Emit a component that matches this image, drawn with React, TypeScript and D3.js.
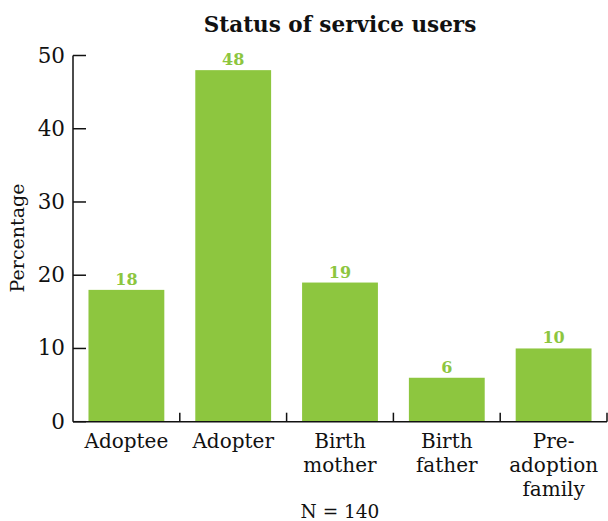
import React from "react";
import * as d3 from "d3";

const categories: string[][] = [
  ["Adoptee"],
  ["Adopter"],
  ["Birth", "mother"],
  ["Birth", "father"],
  ["Pre-", "adoption", "family"],
];
const values: number[] = [18, 48, 19, 6, 10];
const yTicks: number[] = [0, 10, 20, 30, 40, 50];
const title = "Status of service users";
const yLabel = "Percentage";
const note = "N = 140";

const W = 608;
const H = 521;
const GREEN = "#8dc63f";
const FONT = "'DejaVu Serif', serif";

export default function App() {
  const left = 73;
  const right = 607;
  const top = 55.5;
  const bottom = 421.7;

  const keys = categories.map((c) => c.join(" "));
  const x = d3
    .scaleBand<string>()
    .domain(keys)
    .range([left, right])
    .paddingInner(0.29)
    .paddingOuter(0.145);
  const y = d3.scaleLinear().domain([0, 50]).range([bottom, top]);

  const step = x.step();
  const boundaries = keys.map((k) => (x(k) as number) - (x.paddingInner() * step) / 2 + step);

  return (
    <svg
      width={W}
      height={H}
      style={{ position: "absolute", left: 0, top: 0 }}
      fontFamily={FONT}
    >
      <text
        x={340}
        y={32}
        textAnchor="middle"
        fontWeight="bold"
        fontSize={21.5}
        fill="#111"
      >
        {title}
      </text>

      {/* bars */}
      {values.map((v, i) => (
        <rect
          key={keys[i]}
          x={x(keys[i])}
          y={y(v)}
          width={x.bandwidth()}
          height={y(0) - y(v)}
          fill={GREEN}
        />
      ))}

      {/* value labels */}
      {values.map((v, i) => (
        <text
          key={"v" + keys[i]}
          x={(x(keys[i]) as number) + x.bandwidth() / 2}
          y={y(v) - 5}
          textAnchor="middle"
          fontWeight="bold"
          fontSize={16}
          fill={GREEN}
        >
          {v}
        </text>
      ))}

      {/* y axis */}
      <line x1={left} x2={left} y1={top} y2={bottom} stroke="#111" strokeWidth={1.5} />
      {yTicks.map((t) => (
        <g key={"t" + t}>
          <line x1={left} x2={left + 13} y1={y(t)} y2={y(t)} stroke="#111" strokeWidth={1.5} />
          <text x={65} y={y(t) + 7} textAnchor="end" fontSize={21.5} fill="#111">
            {t}
          </text>
        </g>
      ))}

      {/* x axis */}
      <line x1={left} x2={right} y1={bottom} y2={bottom} stroke="#111" strokeWidth={1.5} />
      {boundaries.map((b, i) => (
        <line key={"b" + i} x1={b} x2={b} y1={bottom} y2={bottom - 9} stroke="#111" strokeWidth={1.5} />
      ))}

      {/* category labels */}
      {categories.map((lines, i) => (
        <text
          key={"c" + keys[i]}
          x={(x(keys[i]) as number) + x.bandwidth() / 2}
          y={448}
          textAnchor="middle"
          fontSize={20}
          fill="#111"
        >
          {lines.map((l, j) => (
            <tspan key={j} x={(x(keys[i]) as number) + x.bandwidth() / 2} y={448 + j * 24}>
              {l}
            </tspan>
          ))}
        </text>
      ))}

      {/* y label */}
      <text
        transform={`translate(24,238) rotate(-90)`}
        textAnchor="middle"
        fontSize={19}
        fill="#111"
      >
        {yLabel}
      </text>

      <text x={340} y={518} textAnchor="middle" fontSize={18.5} fill="#111">
        {note}
      </text>
    </svg>
  );
}
